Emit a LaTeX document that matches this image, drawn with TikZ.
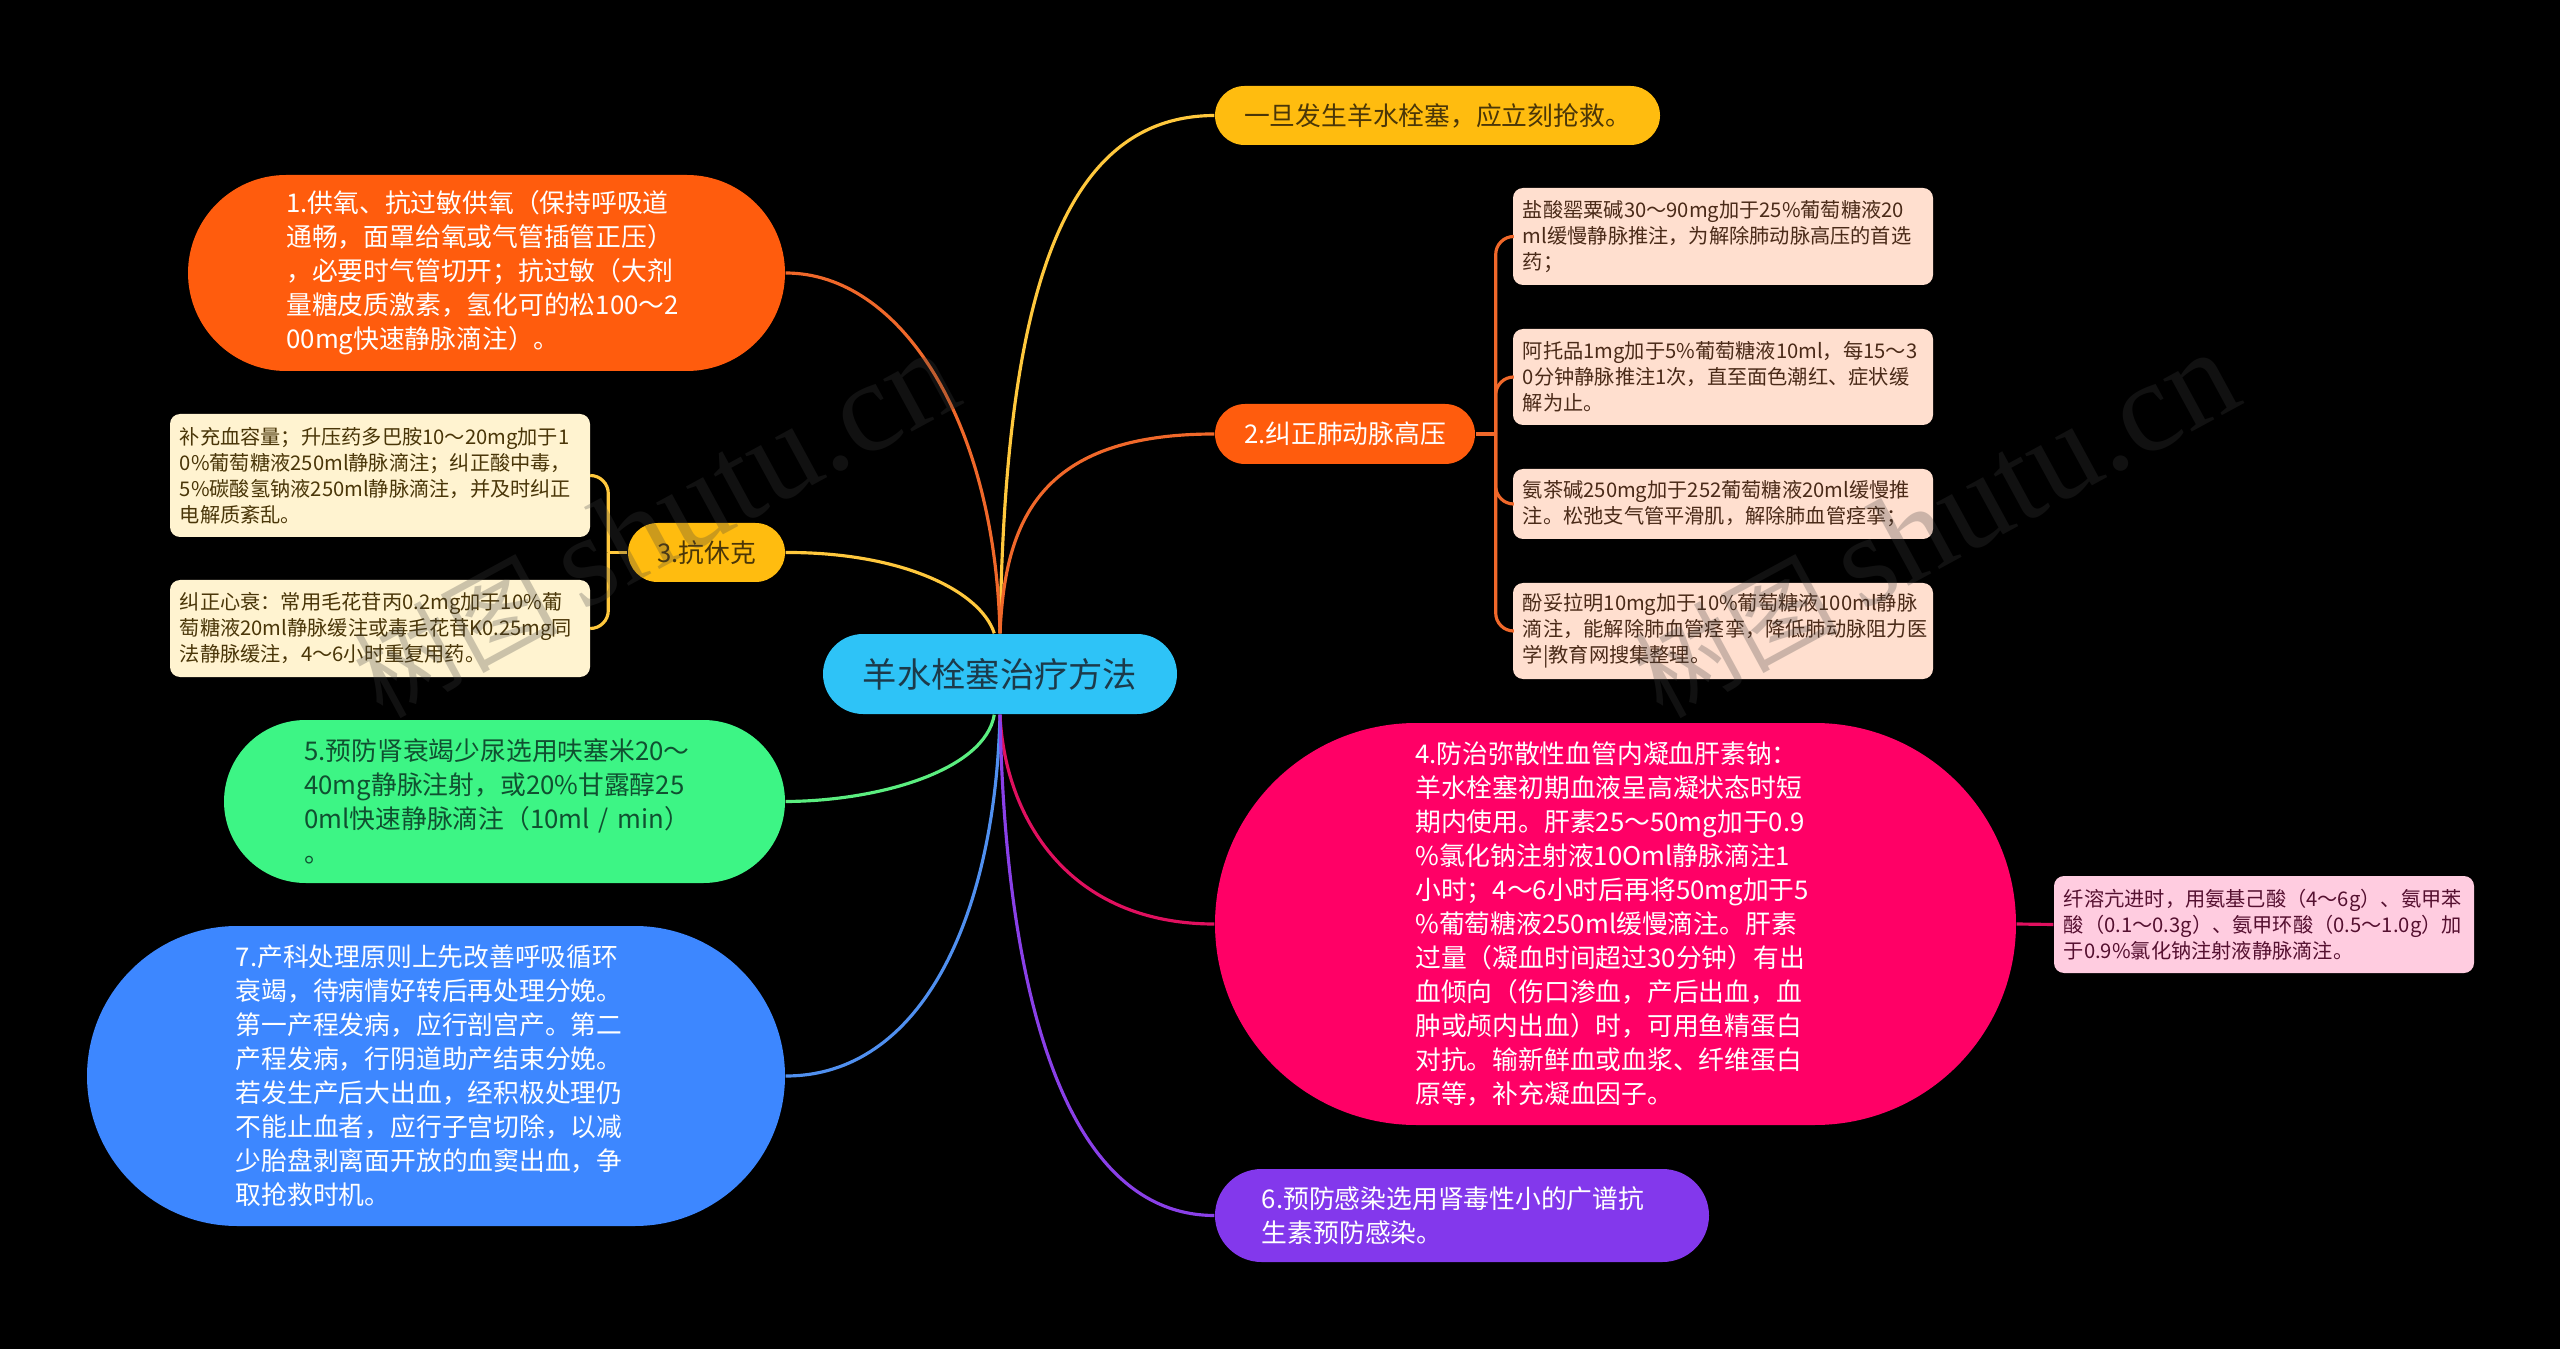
\documentclass[tikz,border=0pt]{standalone}
\usepackage{fontspec}
\setmainfont{Noto Sans CJK SC}
\newfontfamily\markfont{Liberation Serif}
\definecolor{skyfill}{HTML}{2EC3F7}
\definecolor{skytext}{HTML}{1C3A4A}
\definecolor{goldfill}{HTML}{FFBC0F}
\definecolor{goldtext}{HTML}{4A3608}
\definecolor{goldline}{HTML}{FFC83D}
\definecolor{goldleaf}{HTML}{FFF3D0}
\definecolor{orangefill}{HTML}{FF5C0D}
\definecolor{orangeline}{HTML}{F0682A}
\definecolor{orangeleaf}{HTML}{FFDFCF}
\definecolor{orangetext}{HTML}{4A2A18}
\definecolor{greenfill}{HTML}{3DF585}
\definecolor{greentext}{HTML}{105030}
\definecolor{greenline}{HTML}{5BEE80}
\definecolor{bluefill}{HTML}{3D87FF}
\definecolor{blueline}{HTML}{5090F0}
\definecolor{rosefill}{HTML}{FF0066}
\definecolor{roseline}{HTML}{E0105F}
\definecolor{roseleaf}{HTML}{FFCCE0}
\definecolor{rosetext}{HTML}{551030}
\definecolor{violetfill}{HTML}{8338EC}
\definecolor{violetline}{HTML}{8A40E8}
\tikzset{
	pill/.style 2 args={inner sep=0pt, align=left, minimum width=#1*0.01cm, minimum height=#2*0.01cm, rounded corners=#2*0.005cm, font=\fontsize{7.33}{9.67}\selectfont},
	leaf/.style 2 args={inner sep=0pt, align=left, text width=4cm, minimum width=#1*0.01cm, minimum height=#2*0.01cm, rounded corners=0.1cm, font=\fontsize{5.75}{7.4}\selectfont},
	wide/.style={text width=4cm},
	link/.style={line width=0.9pt},
	watermark/.style={rotate=28.5, text=black!75!white, opacity=0.27, font=\fontsize{29}{29}\selectfont}
}

\begin{document}
\begin{tikzpicture}[x=0.01cm, y=-0.01cm]
	%%%%% START %%%%%
	\useasboundingbox (0, 0) rectangle (2560, 1349);
	\fill[black] (0, 0) rectangle (2560, 1349);

	\node[pill={354}{80}, fill=skyfill, text=skytext, align=center, font=\fontsize{9.75}{12}\selectfont] (rootbox) at (1000, 674) {羊水栓塞治疗方法};

	\node[pill={445}{59}, fill=goldfill, text=goldtext] (rescue) at (1437.5, 115.5) {一旦发生羊水栓塞，应立刻抢救。};
	\node[pill={260}{60}, fill=orangefill, text=white] (pressure) at (1345, 434) {2.纠正肺动脉高压};
	\node[pill={801}{402}, wide, fill=rosefill, text=white] (clotting) at (1615.5, 924) {4.防治弥散性血管内凝血肝素钠：\\羊水栓塞初期血液呈高凝状态时短\\期内使用。肝素25～50mg加于0.9\\\%氯化钠注射液10Oml静脉滴注1\\小时；4～6小时后再将50mg加于5\\\%葡萄糖液250ml缓慢滴注。肝素\\过量（凝血时间超过30分钟）有出\\血倾向（伤口渗血，产后出血，血\\肿或颅内出血）时，可用鱼精蛋白\\对抗。输新鲜血或血浆、纤维蛋白\\原等，补充凝血因子。};
	\node[pill={494}{93}, wide, fill=violetfill, text=white] (infection) at (1462, 1215.5) {6.预防感染选用肾毒性小的广谱抗\\生素预防感染。};

	\node[pill={597}{196}, wide, fill=orangefill, text=white] (oxygen) at (486.5, 273) {1.供氧、抗过敏供氧（保持呼吸道\\通畅，面罩给氧或气管插管正压）\\，必要时气管切开；抗过敏（大剂\\量糖皮质激素，氢化可的松100～2\\00mg快速静脉滴注）。};
	\node[pill={157}{59}, fill=goldfill, text=goldtext] (shock) at (706.5, 552.5) {3.抗休克};
	\node[pill={561}{163}, wide, fill=greenfill, text=greentext] (kidney) at (504.5, 801.5) {5.预防肾衰竭少尿选用呋塞米20～\\40mg静脉注射，或20\%甘露醇25\\0ml快速静脉滴注（10ml / min）\\。};
	\node[pill={698}{300}, wide, fill=bluefill, text=white] (labour) at (436, 1076) {7.产科处理原则上先改善呼吸循环\\衰竭，待病情好转后再处理分娩。\\第一产程发病，应行剖宫产。第二\\产程发病，行阴道助产结束分娩。\\若发生产后大出血，经积极处理仍\\不能止血者，应行子宫切除，以减\\少胎盘剥离面开放的血窦出血，争\\取抢救时机。};

	\node[leaf={420}{97}, fill=orangeleaf, text=orangetext] (drugone) at (1723, 236.5) {盐酸罂粟碱30～90mg加于25\%葡萄糖液20\\ml缓慢静脉推注，为解除肺动脉高压的首选\\药；};
	\node[leaf={420}{96}, fill=orangeleaf, text=orangetext] (drugtwo) at (1723, 377) {阿托品1mg加于5\%葡萄糖液10ml，每15～3\\0分钟静脉推注1次，直至面色潮红、症状缓\\解为止。};
	\node[leaf={420}{70}, fill=orangeleaf, text=orangetext] (drugthree) at (1723, 504) {氨茶碱250mg加于252葡萄糖液20ml缓慢推\\注。松弛支气管平滑肌，解除肺血管痉挛；};
	\node[leaf={420}{96}, fill=orangeleaf, text=orangetext] (drugfour) at (1723, 631) {酚妥拉明10mg加于10\%葡萄糖液100ml静脉\\滴注，能解除肺血管痉挛，降低肺动脉阻力医\\学|教育网搜集整理。};

	\node[leaf={420}{123}, fill=goldleaf, text=goldtext] (volume) at (380, 475.5) {补充血容量；升压药多巴胺10～20mg加于1\\0\%葡萄糖液250ml静脉滴注；纠正酸中毒，\\5\%碳酸氢钠液250ml静脉滴注，并及时纠正\\电解质紊乱。};
	\node[leaf={420}{97}, fill=goldleaf, text=goldtext] (heart) at (380, 628.5) {纠正心衰：常用毛花苷丙0.2mg加于10\%葡\\萄糖液20ml静脉缓注或毒毛花苷K0.25mg同\\法静脉缓注，4～6小时重复用药。};

	\node[leaf={420}{97}, fill=roseleaf, text=rosetext] (fibrin) at (2264, 924.5) {纤溶亢进时，用氨基己酸（4～6g）、氨甲苯\\酸（0.1～0.3g）、氨甲环酸（0.5～1.0g）加\\于0.9\%氯化钠注射液静脉滴注。};

	\draw[link, color=goldline] (rootbox.north) .. controls (1005, 300) and (1060, 116) .. (rescue.west);
	\draw[link, color=orangeline] (rootbox.north) .. controls (1005, 520) and (1040, 434) .. (pressure.west);
	\draw[link, color=orangeline] (rootbox.north) .. controls (995, 420) and (900, 273) .. (oxygen.east);
	\draw[link, color=goldline] (rootbox.98) .. controls (980, 590) and (900, 552) .. (shock.east);
	\draw[link, color=greenline] (rootbox.262) .. controls (985, 770) and (880, 801) .. (kidney.east);
	\draw[link, color=blueline] (rootbox.south) .. controls (995, 920) and (920, 1076) .. (labour.east);
	\draw[link, color=roseline] (rootbox.south) .. controls (1005, 820) and (1070, 924) .. (clotting.west);
	\draw[link, color=violetline] (rootbox.south) .. controls (1005, 980) and (1060, 1215) .. (infection.west);

	\draw[link, color=orangeline] (pressure.east) -- ++(20, 0) coordinate (pressurefork);
	\foreach \drug in {drugone, drugtwo, drugthree, drugfour}
		\draw[link, color=orangeline, rounded corners=0.18cm] (pressurefork) |- (\drug.west);

	\draw[link, color=goldline] (shock.west) -- ++(-19, 0) coordinate (shockfork);
	\foreach \care in {volume, heart}
		\draw[link, color=goldline, rounded corners=0.18cm] (shockfork) |- (\care.east);

	\draw[link, color=roseline] (clotting.east) -- (fibrin.west);

	\foreach \dx in {0, 1280}
		\foreach \dy in {0, 998}
			\node[watermark] (mark\dx\dy) at (655+\dx, 525+\dy) {树图 {\markfont\fontsize{37}{37}\selectfont shutu.cn}};
	%%%%% END %%%%%
\end{tikzpicture}
\end{document}
